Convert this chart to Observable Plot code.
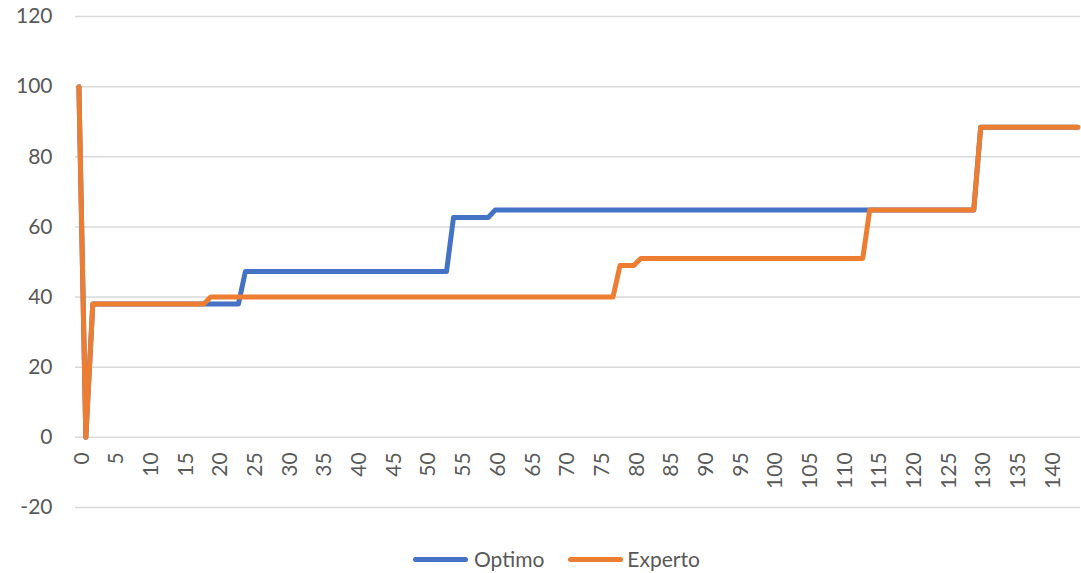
<!DOCTYPE html>
<html>
<head>
<meta charset="utf-8">
<script src="https://cdn.jsdelivr.net/npm/d3@7"></script>
<script src="https://cdn.jsdelivr.net/npm/@observablehq/plot@0.6"></script>
<style>
  html, body { margin: 0; padding: 0; background: #fff; }
  #chart { width: 1081px; }
  .legend { height: 38px; display: flex; align-items: flex-start; padding-left: 413px; font-family: Lato, "Open Sans", sans-serif; font-size: 21px; color: #595959; }
  .item { display: flex; align-items: center; margin-top: 12px; line-height: 24px; }
  .sw { width: 55px; height: 5px; border-radius: 3px; margin-right: 6px; }
</style>
</head>
<body>
<div id="chart"></div>
<script>
const categories = d3.range(145);
const xTicks = [0,5,10,15,20,25,30,35,40,45,50,55,60,65,70,75,80,85,90,95,100,105,110,115,120,125,130,135,140];
const yTicks = [-20,0,20,40,60,80,100,120];
const seriesNames = ["Optimo", "Experto"];
const colors = ["#4472C4", "#ED7D31"];

const optimo = [
  100, 0,
  38, 38, 38, 38, 38, 38, 38, 38, 38, 38,
  38, 38, 38, 38, 38, 38, 38, 38, 38, 38, 38, 38,
  47.3, 47.3, 47.3, 47.3, 47.3, 47.3, 47.3, 47.3, 47.3, 47.3,
  47.3, 47.3, 47.3, 47.3, 47.3, 47.3, 47.3, 47.3, 47.3, 47.3,
  47.3, 47.3, 47.3, 47.3, 47.3, 47.3, 47.3, 47.3, 47.3, 47.3,
  62.7, 62.7, 62.7, 62.7, 62.7, 62.7,
  64.8, 64.8, 64.8, 64.8, 64.8, 64.8, 64.8, 64.8, 64.8, 64.8,
  64.8, 64.8, 64.8, 64.8, 64.8, 64.8, 64.8, 64.8, 64.8, 64.8,
  64.8, 64.8, 64.8, 64.8, 64.8, 64.8, 64.8, 64.8, 64.8, 64.8,
  64.8, 64.8, 64.8, 64.8, 64.8, 64.8, 64.8, 64.8, 64.8, 64.8,
  64.8, 64.8, 64.8, 64.8, 64.8, 64.8, 64.8, 64.8, 64.8, 64.8,
  64.8, 64.8, 64.8, 64.8, 64.8, 64.8, 64.8, 64.8, 64.8, 64.8,
  64.8, 64.8, 64.8, 64.8, 64.8, 64.8, 64.8, 64.8, 64.8, 64.8,
  88.4, 88.4, 88.4, 88.4, 88.4, 88.4, 88.4, 88.4,
  88.4, 88.4, 88.4, 88.4, 88.4, 88.4, 88.4
];

const experto = [
  100, 0,
  38, 38, 38, 38, 38, 38, 38, 38, 38, 38,
  38, 38, 38, 38, 38, 38, 38,
  40, 40, 40, 40, 40, 40, 40, 40, 40, 40,
  40, 40, 40, 40, 40, 40, 40, 40, 40, 40,
  40, 40, 40, 40, 40, 40, 40, 40, 40, 40,
  40, 40, 40, 40, 40, 40, 40, 40, 40, 40,
  40, 40, 40, 40, 40, 40, 40, 40, 40, 40,
  40, 40, 40, 40, 40, 40, 40, 40, 40,
  49, 49, 49,
  51, 51, 51, 51, 51, 51, 51, 51, 51, 51,
  51, 51, 51, 51, 51, 51, 51, 51, 51, 51,
  51, 51, 51, 51, 51, 51, 51, 51, 51, 51,
  51, 51, 51,
  64.8, 64.8, 64.8, 64.8, 64.8, 64.8, 64.8, 64.8,
  64.8, 64.8, 64.8, 64.8, 64.8, 64.8, 64.8, 64.8,
  88.4, 88.4, 88.4, 88.4, 88.4, 88.4, 88.4, 88.4,
  88.4, 88.4, 88.4, 88.4, 88.4, 88.4, 88.4
];

const rows = [];
[optimo, experto].forEach((vals, s) => {
  categories.forEach((c, i) => rows.push({series: seriesNames[s], x: c, y: vals[i]}));
});

const chart = Plot.plot({
  width: 1081,
  height: 535,
  marginLeft: 75,
  marginRight: 1,
  marginTop: 16,
  marginBottom: 28,
  style: {fontFamily: "Lato, 'Open Sans', sans-serif", fontSize: "21px", color: "#595959", background: "#fff"},
  x: {domain: [0, 144], range: [78.4, 1077.3], axis: null},
  y: {domain: [-20, 120], ticks: yTicks, tickSize: 0, tickPadding: 23, label: null, tickFormat: d => String(d)},
  color: {domain: seriesNames, range: colors},
  marks: [
    Plot.ruleY(yTicks, {stroke: "#d9d9d9", strokeWidth: 1.5}),
    Plot.text(xTicks, {x: d => d, y: () => 0, text: d => String(d), rotate: -90, textAnchor: "end", dy: 15, dx: 3, fill: "#595959"}),
    Plot.line(rows, {x: "x", y: "y", z: "series", stroke: "series", strokeWidth: 5, strokeLinejoin: "round", strokeLinecap: "round"})
  ]
});
document.getElementById("chart").appendChild(chart);
</script>
<div class="legend">
  <div class="item"><div class="sw" style="background:#4472C4"></div><span>Optimo</span></div>
  <div class="item" style="margin-left:24px"><div class="sw" style="background:#ED7D31;margin-right:4px"></div><span>Experto</span></div>
</div>
</body>
</html>
